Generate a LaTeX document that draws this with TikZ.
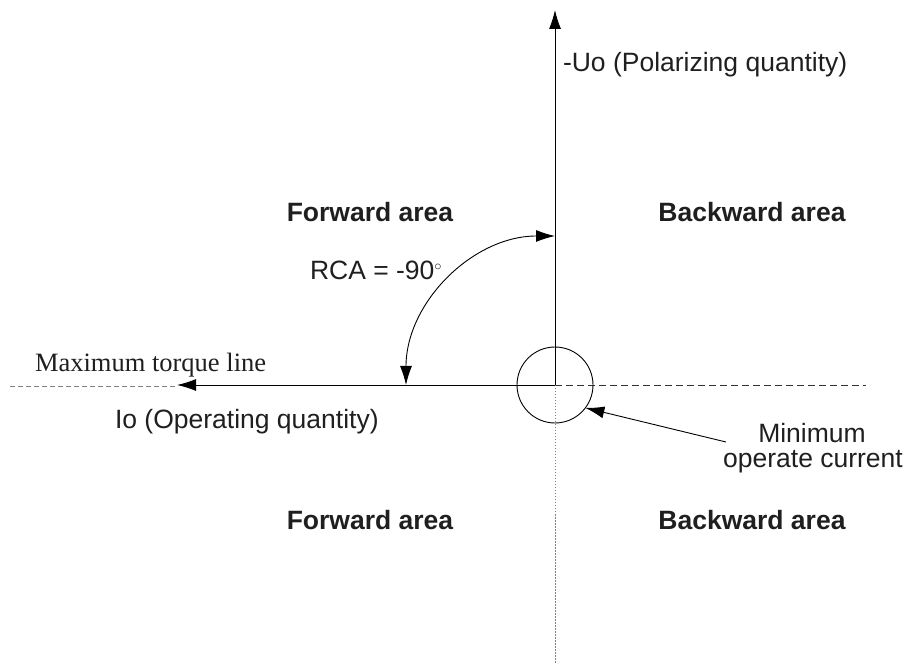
\documentclass[tikz,border=0pt]{standalone}
\usepackage{fontspec}
\setmainfont{Liberation Sans}
\newfontfamily\timesf{Liberation Serif}
\usetikzlibrary{arrows.meta}
\tikzset{
  every node/.style={inner sep=0pt, outer sep=0pt, font=\fontsize{26.5}{26.5}\selectfont},
  axis/.style={line width=0.9pt, black},
  tipped/.style={-{Latex[length=19pt,width=12pt]}},
  areatext/.style={font=\fontsize{26.5}{26.5}\selectfont\bfseries, text=black!88},
  lbl/.style={text=black!88},
}
\begin{document}
\begin{tikzpicture}[x=1pt,y=1pt]
\useasboundingbox (0,0) rectangle (907,664);
% key points
\coordinate (O) at (555,279);
\coordinate (top) at (555,654);
\coordinate (bot) at (555,0);
\coordinate (lefttip) at (177,279);
\coordinate (leftend) at (10,278);
\coordinate (lefttip2) at (177,278);
\coordinate (rightend) at (866,279);
\coordinate (arcstart) at (406,279);
\coordinate (tail) at (726,222);
% axes
\draw[axis,tipped] (O) -- (top);
\draw[axis,tipped] (O) -- (lefttip);
\draw[gray, line width=0.9pt, dash pattern=on 5pt off 3pt] (leftend) -- (lefttip2);
\draw[black!80, line width=0.9pt, dash pattern=on 7pt off 4pt] (O) -- (rightend);
\draw[gray, line width=0.9pt, dash pattern=on 1.5pt off 1.5pt] (O) -- (bot);
% circle
\node[draw, circle, line width=0.9pt, minimum size=76pt] (circ) at (O) {};
% RCA arc
\draw[line width=0.9pt, {Latex[length=19pt,width=12pt]}-{Latex[length=19pt,width=12pt]}] (arcstart) arc[start angle=180, end angle=90, radius=149];
% minimum operate arrow
\draw[line width=0.9pt, tipped] (tail) -- (circ.-37);
% labels
\node[lbl, anchor=west] (uo) at (563,599) {-Uo (Polarizing quantity)};
\node[areatext] (fwdtop) at (370,452) {Forward area};
\node[areatext] (bwdtop) at (752,452) {Backward area};
\node[areatext] (fwdbot) at (370,144) {Forward area};
\node[areatext] (bwdbot) at (752,144) {Backward area};
\node[lbl, anchor=west] (rca) at (310,394) {RCA = -90\raisebox{9pt}{\fontsize{14}{14}\selectfont$\circ$}};
\node[lbl, anchor=base west, font=\fontsize{26.5}{26.5}\timesf] (mtl) at (35,292) {Maximum torque line};
\node[lbl, anchor=west] (io) at (115,242) {Io (Operating quantity)};
\node[lbl, anchor=base] (min1) at (812,221) {Minimum};
\node[lbl, anchor=base] (min2) at (813,196) {operate current};
\end{tikzpicture}
\end{document}
